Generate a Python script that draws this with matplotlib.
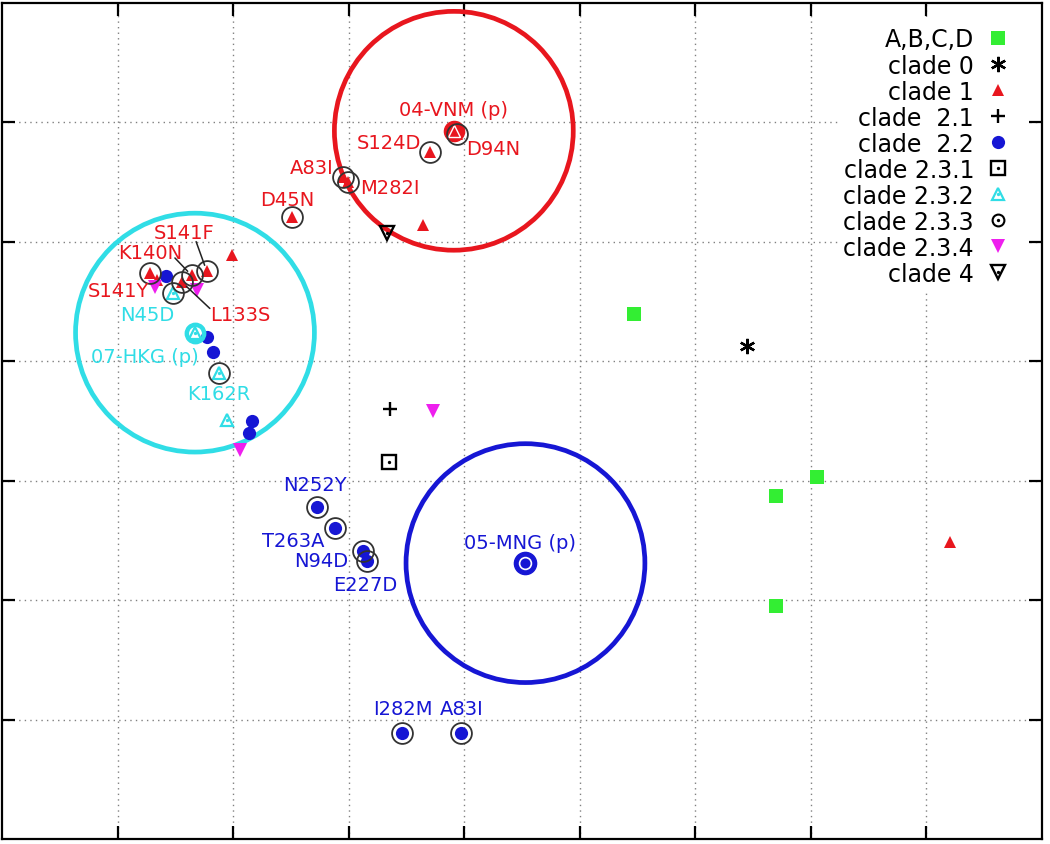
import matplotlib
matplotlib.use("Agg")
import matplotlib.pyplot as plt
from matplotlib.patches import Ellipse, Rectangle

# ------------------------------------------------------------------ data
abcd_x = [4.47, 6.05, 5.70, 5.70]
abcd_y = [3.40, 2.03, 1.87, 0.95]
clade0_x = [5.45]
clade0_y = [3.13]
clade1_x = [0.99, 2.64, 7.20, 0.34]
clade1_y = [3.89, 4.14, 1.49, 3.68]
clade21_x = [2.36]
clade21_y = [2.60]
clade22_x = [0.42, 0.77, 0.83, 1.16, 1.14]
clade22_y = [3.71, 3.20, 3.08, 2.50, 2.40]
clade231_x = [2.35]
clade231_y = [2.16]
clade232_x = [0.95]
clade232_y = [2.51]
clade233_x = []
clade233_y = []
clade234_x = [0.32, 0.69, 1.06, 2.73]
clade234_y = [3.62, 3.60, 2.26, 2.58]
clade4_x = [2.33]
clade4_y = [4.07]

# prototype strains (centre of the antigenic circles)
proto_names = ["04-VNM (p)", "07-HKG (p)", "05-MNG (p)"]
proto_x = [2.91, 0.67, 3.53]
proto_y = [4.93, 3.24, 1.31]
proto_label_x = [2.91, 0.24, 3.48]
proto_label_y = [5.12, 3.05, 1.49]
circle_radius = 1.0

# mutants (ringed points)
red_mut_names = ["A83I", "M282I", "D45N", "S124D", "D94N", "S141F", "K140N", "L133S", "S141Y"]
red_mut_x = [1.95, 1.99, 1.51, 2.70, 2.94, 0.77, 0.64, 0.56, 0.28]
red_mut_y = [4.54, 4.50, 4.21, 4.75, 4.90, 3.76, 3.72, 3.66, 3.74]
red_lab_x = [1.68, 2.36, 1.47, 2.35, 3.25, 0.58, 0.28, 1.06, 0.01]
red_lab_y = [4.63, 4.46, 4.36, 4.84, 4.79, 4.09, 3.92, 3.40, 3.60]

cyan_mut_names = ["N45D", "K162R"]
cyan_mut_x = [0.48, 0.88]
cyan_mut_y = [3.57, 2.90]
cyan_lab_x = [0.26, 0.88]
cyan_lab_y = [3.40, 2.74]

blue_mut_names = ["N252Y", "T263A", "N94D", "E227D", "I282M", "A83I"]
blue_mut_x = [1.73, 1.88, 2.12, 2.16, 2.46, 2.97]
blue_mut_y = [1.78, 1.60, 1.41, 1.33, -0.11, -0.11]
blue_lab_x = [1.71, 1.52, 1.76, 2.14, 2.47, 2.98]
blue_lab_y = [1.98, 1.51, 1.34, 1.14, 0.10, 0.10]

legend_labels = ["A,B,C,D", "clade 0", "clade 1", "clade  2.1", "clade  2.2",
                 "clade 2.3.1", "clade 2.3.2", "clade 2.3.3", "clade 2.3.4", "clade 4"]

# ------------------------------------------------------------------ style
RED = "#e8161e"
CYAN = "#30dde6"
BLUE = "#1616d4"
MAG = "#ee1fee"
GREEN = "#33ee33"
RING = "#333333"
PROTO_COLORS = [RED, CYAN, BLUE]


def dot(c):
    return dict(marker="o", ms=2.4, mfc=c, mec=c, mew=0)


STYLES = {
    "A,B,C,D": [dict(marker="s", ms=9.5, mfc=GREEN, mec=GREEN, mew=0)],
    "clade 0": [dict(marker=(6, 2, 0), ms=11, mec="black", mew=1.7)],
    "clade 1": [dict(marker="^", ms=9, mfc=RED, mec=RED, mew=0)],
    "clade  2.1": [dict(marker="+", ms=10, mec="black", mew=1.7)],
    "clade  2.2": [dict(marker="o", ms=9.5, mfc=BLUE, mec=BLUE, mew=0)],
    "clade 2.3.1": [dict(marker="s", ms=9.5, mfc="none", mec="black", mew=1.7), dot("black")],
    "clade 2.3.2": [dict(marker="^", ms=8.5, mfc="none", mec=CYAN, mew=1.6), dot(CYAN)],
    "clade 2.3.3": [dict(marker="o", ms=8.5, mfc="none", mec="black", mew=1.5), dot("black")],
    "clade 2.3.4": [dict(marker="v", ms=9.5, mfc=MAG, mec=MAG, mew=0)],
    "clade 4": [dict(marker="v", ms=9.5, mfc="none", mec="black", mew=1.7), dot("black")],
}

plt.rcParams["font.family"] = ["DejaVu Sans"]

W, H = 1050, 844
fig = plt.figure(figsize=(W / 100, H / 100), dpi=100)
ax_l, ax_t, ax_w, ax_h = 2, 3, 1040, 836
ax = fig.add_axes([ax_l / W, 1 - (ax_t + ax_h) / H, ax_w / W, ax_h / H])

XLIM = (-1, 8)
YLIM = (-1, 6)
ax.set_xlim(*XLIM)
ax.set_ylim(*YLIM)
ax.set_xticks(range(0, 8))
ax.set_yticks(range(0, 6))
ax.tick_params(which="both", direction="in", top=True, right=True,
               labelbottom=False, labelleft=False, length=9.5, width=1.6, color="black")
for s in ax.spines.values():
    s.set_linewidth(1.6)
ax.set_axisbelow(True)
ax.grid(True, linestyle=(0, (1, 3)), color="#808080", linewidth=1.0)


def draw(xs, ys, clade, z=3, transform=None):
    if len(xs) == 0:
        return
    for layer in STYLES[clade]:
        kw = dict(linestyle="none", zorder=z)
        if transform is not None:
            kw["transform"] = transform
            kw["clip_on"] = False
        ax.plot(xs, ys, **kw, **layer)


# antigenic circles
aspect = (ax_h / (YLIM[1] - YLIM[0])) / (ax_w / (XLIM[1] - XLIM[0]))
for px, py, c in zip(proto_x, proto_y, PROTO_COLORS):
    ax.add_patch(Ellipse((px, py), width=2 * circle_radius * aspect,
                         height=2 * circle_radius, fill=False, edgecolor=c,
                         linewidth=3.4, zorder=2))

# clade points
draw(abcd_x, abcd_y, "A,B,C,D")
draw(clade0_x, clade0_y, "clade 0")
draw(clade1_x, clade1_y, "clade 1")
draw(clade21_x, clade21_y, "clade  2.1")
draw(clade22_x, clade22_y, "clade  2.2")
draw(clade231_x, clade231_y, "clade 2.3.1")
draw(clade232_x, clade232_y, "clade 2.3.2")
draw(clade233_x, clade233_y, "clade 2.3.3")
draw(clade234_x, clade234_y, "clade 2.3.4")
draw(clade4_x, clade4_y, "clade 4")

# mutants
draw(red_mut_x, red_mut_y, "clade 1")
draw(cyan_mut_x, cyan_mut_y, "clade 2.3.2")
draw(blue_mut_x, blue_mut_y, "clade  2.2")

# prototypes
ax.plot(proto_x[0], proto_y[0], linestyle="none", marker="o", ms=14.5, mfc=RED, mec=RED, zorder=3)
ax.plot(proto_x[0], proto_y[0], linestyle="none", marker="^", ms=8.5, mfc=RED, mec="white", mew=1.0, zorder=3.1)
ax.plot(proto_x[1], proto_y[1], linestyle="none", marker="o", ms=12.5, mfc="none", mec=CYAN, mew=3.2, zorder=3)
draw([proto_x[1]], [proto_y[1]], "clade 2.3.2", z=3.1)
ax.plot(proto_x[2], proto_y[2], linestyle="none", marker="o", ms=16, mfc=BLUE, mec=BLUE, zorder=3)
ax.plot(proto_x[2], proto_y[2], linestyle="none", marker="o", ms=8.5, mfc="none", mec="white", mew=1.2, zorder=3.1)

# rings around mutants
for xs, ys in [(red_mut_x, red_mut_y), (cyan_mut_x, cyan_mut_y), (blue_mut_x, blue_mut_y)]:
    ax.plot(xs, ys, linestyle="none", marker="o", ms=15, mfc="none", mec=RING, mew=1.3, zorder=4)

# labels
LFS = 14
leader_relpos = {"S141F": (0.69, 0.05), "K140N": (0.89, 0.26), "L133S": (0.0, 0.87)}


def labels(names, px, py, lx, ly, colors):
    for n, x, y, tx, ty, color in zip(names, px, py, lx, ly, colors):
        if n in leader_relpos:
            ax.annotate(n, xy=(x, y), xytext=(tx, ty), color=color, fontsize=LFS,
                        ha="center", va="center_baseline", zorder=5,
                        arrowprops=dict(arrowstyle="-", color="#222222", lw=1.1,
                                        relpos=leader_relpos[n], patchA=None,
                                        shrinkA=0, shrinkB=4))
        else:
            ax.text(tx, ty, n, color=color, fontsize=LFS, ha="center",
                    va="center_baseline", zorder=5)


labels(red_mut_names, red_mut_x, red_mut_y, red_lab_x, red_lab_y, [RED] * len(red_mut_names))
labels(cyan_mut_names, cyan_mut_x, cyan_mut_y, cyan_lab_x, cyan_lab_y, [CYAN] * len(cyan_mut_names))
labels(blue_mut_names, blue_mut_x, blue_mut_y, blue_lab_x, blue_lab_y, [BLUE] * len(blue_mut_names))
labels(proto_names, proto_x, proto_y, proto_label_x, proto_label_y, PROTO_COLORS)

# legend (gnuplot-style: right-aligned text, marker to the right)
ax.add_patch(Rectangle(((840 - ax_l) / ax_w, 1 - (290 - ax_t) / ax_h),
                       (1028 - 840) / ax_w, (290 - 17) / ax_h,
                       transform=ax.transAxes, facecolor="white", edgecolor="none", zorder=1))
leg_x_marker = (998 - ax_l) / ax_w
leg_x_text = (974 - ax_l) / ax_w
leg_y0 = 1 - (38 - ax_t) / ax_h
leg_step = 26.0 / ax_h
for i, lab in enumerate(legend_labels):
    yy = leg_y0 - i * leg_step
    ax.text(leg_x_text, yy, lab, transform=ax.transAxes, ha="right",
            va="center_baseline", fontsize=17, color="black", zorder=7)
    draw([leg_x_marker], [yy], lab, z=7, transform=ax.transAxes)

fig.savefig("out.png", dpi=100)
